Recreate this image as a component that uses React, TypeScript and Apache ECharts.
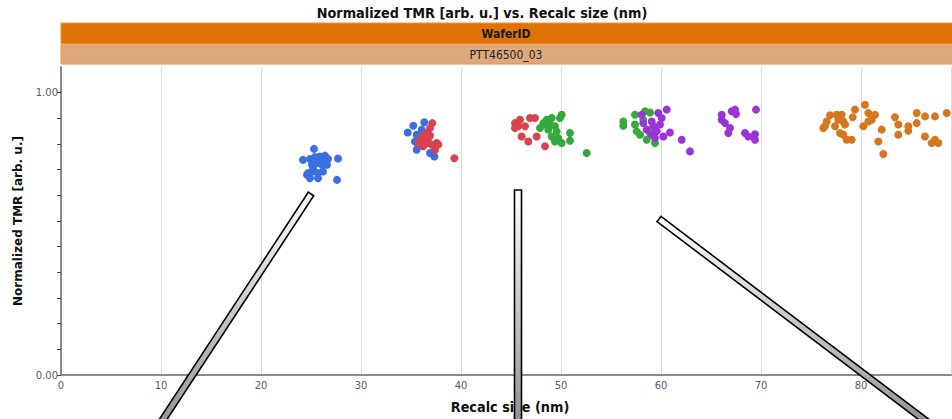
import React, { useEffect, useRef } from "react";
import * as echarts from "echarts";

// ---- data ----
const blueX = [25.3, 24.2, 24.9, 25.4, 25.9, 26.4, 26.7, 27.7, 26.2, 25.1, 25.6, 26.1, 26.6, 24.7, 25.2, 25.7, 26.2, 24.9, 25.7, 27.6, 25.2, 24.6,
  34.67, 35.23, 36.33, 35.57, 35.4, 35.73, 35.57, 36.9, 37.33, 35.9, 36.07];
const blueY = [0.801, 0.762, 0.765, 0.772, 0.774, 0.777, 0.765, 0.767, 0.762, 0.745, 0.75, 0.745, 0.745, 0.715, 0.721, 0.715, 0.721, 0.697, 0.697, 0.691, 0.733, 0.709,
  0.859, 0.883, 0.895, 0.851, 0.827, 0.81, 0.798, 0.786, 0.774, 0.839, 0.869];

const redX = [37.13, 36.9, 36.57, 36.07, 36.73, 37.57, 37.73, 37.07, 36.57, 35.73, 36.23, 37.4, 36.9, 39.33, 36.23,
  45.9, 45.4, 45.4, 46.4, 46.9, 47.4, 46.07, 46.73, 47.57, 48.4, 45.73];
const redY = [0.892, 0.875, 0.857, 0.845, 0.839, 0.822, 0.816, 0.816, 0.822, 0.822, 0.81, 0.798, 0.848, 0.768, 0.827,
  0.904, 0.892, 0.875, 0.881, 0.91, 0.91, 0.845, 0.827, 0.845, 0.81, 0.881];

const greenX = [47.9, 48.23, 48.57, 49.07, 50.07, 49.9, 48.73, 49.4, 49.57, 49.07, 49.73, 49.4, 50.07, 50.9, 50.9, 52.57, 48.4, 48.9,
  56.23, 56.23, 57.4, 58.4, 58.9, 57.4, 57.57, 57.9, 58.57, 59.4, 58.9, 58.23];
const greenY = [0.875, 0.892, 0.904, 0.91, 0.922, 0.91, 0.869, 0.881, 0.863, 0.845, 0.839, 0.827, 0.822, 0.857, 0.83, 0.786, 0.887, 0.887,
  0.898, 0.883, 0.922, 0.934, 0.93, 0.887, 0.863, 0.851, 0.833, 0.822, 0.857, 0.904];

const purpleX = [58.07, 59.73, 60.57, 60.07, 58.23, 59.07, 59.23, 59.9, 58.57, 59.57, 59.07, 59.4, 60.23, 60.9, 62.07, 62.9,
  66.07, 66.07, 66.4, 66.9, 66.73, 67.07, 67.4, 67.5, 69.5, 68.4, 68.73, 69.4, 69.4];
const purpleY = [0.922, 0.928, 0.94, 0.91, 0.892, 0.898, 0.881, 0.887, 0.869, 0.863, 0.851, 0.839, 0.845, 0.859, 0.833, 0.792,
  0.922, 0.904, 0.892, 0.875, 0.857, 0.934, 0.94, 0.924, 0.94, 0.857, 0.845, 0.853, 0.833];

const orangeX = [76.9, 76.57, 76.4, 76.23, 77.4, 77.57, 78.07, 77.73, 78.23, 78.4, 77.9, 78.23, 78.57, 79.07, 79.17, 79.4, 80.4, 80.73, 80.23, 80.73,
  81.07, 81.4, 82.07, 81.73, 82.23, 83.4, 83.73, 83.73, 84.73, 84.73, 85.57, 85.57, 86.4, 86.4, 87.07, 87.4, 87.73, 87.4, 88.57];
const orangeY = [0.92, 0.898, 0.881, 0.875, 0.881, 0.922, 0.922, 0.904, 0.898, 0.887, 0.857, 0.851, 0.833, 0.833, 0.913, 0.94, 0.957, 0.928, 0.881, 0.898,
  0.904, 0.922, 0.869, 0.827, 0.783, 0.913, 0.887, 0.851, 0.881, 0.865, 0.928, 0.892, 0.916, 0.845, 0.822, 0.833, 0.822, 0.916, 0.928];

const xTicks = [0, 10, 20, 30, 40, 50, 60, 70, 80];
const yTickLabels = ["0.00", "1.00"];

const titleText = "Normalized TMR [arb. u.] vs. Recalc size (nm)";
const panelHeader = "WaferID";
const panelValue = "PTT46500_03";
const xName = "Recalc size (nm)";
const yName = "Normalized TMR [arb. u.]";

const seriesDefs = [
  { name: "blue", color: "#3B6FE1", xs: blueX, ys: blueY },
  { name: "red", color: "#D8434F", xs: redX, ys: redY },
  { name: "green", color: "#36A93C", xs: greenX, ys: greenY },
  { name: "purple", color: "#9B33DA", xs: purpleX, ys: purpleY },
  { name: "orange", color: "#D6771F", xs: orangeX, ys: orangeY },
];

const FONT = "'DejaVu Sans', sans-serif";

function bar(x1: number, y1: number, x2: number, y2: number, w: number, grad: number[]) {
  const dx = x2 - x1, dy = y2 - y1;
  const len = Math.sqrt(dx * dx + dy * dy);
  const nx = (-dy / len) * (w / 2), ny = (dx / len) * (w / 2);
  return {
    type: "polygon",
    z: 100,
    silent: true,
    shape: {
      points: [
        [x1 + nx, y1 + ny],
        [x2 + nx, y2 + ny],
        [x2 - nx, y2 - ny],
        [x1 - nx, y1 - ny],
      ],
    },
    style: {
      fill: {
        type: "linear",
        x: grad[0], y: grad[1], x2: grad[2], y2: grad[3],
        colorStops: [
          { offset: 0, color: "#ffffff" },
          { offset: 1, color: "#8a8a8a" },
        ],
      },
      stroke: "#000",
      lineWidth: 1.6,
    },
  };
}

export default function App() {
  const ref = useRef<HTMLDivElement>(null);
  useEffect(() => {
    if (!ref.current) return;
    const chart = echarts.init(ref.current, undefined, { renderer: "svg" });
    const step = 1 / 11;
    chart.setOption({
      animation: false,
      backgroundColor: "#fff",
      grid: { left: 61, right: 1, top: 67, bottom: 44, containLabel: false },
      xAxis: {
        type: "value",
        min: 0,
        max: 89,
        interval: 10,
        axisLine: { lineStyle: { color: "#8a8a8a", width: 2 } },
        axisTick: { show: false },
        axisLabel: {
          margin: 5,
          fontFamily: FONT,
          fontSize: 10,
          color: "#5a5a6e",
          showMaxLabel: false,
          formatter: (v: number) => (xTicks.indexOf(Math.round(v)) >= 0 && Math.abs(v - Math.round(v)) < 1e-6 ? String(Math.round(v)) : ""),
        },
        splitLine: { show: true, lineStyle: { color: "#dcdcdc", width: 1 } },
      },
      yAxis: {
        type: "value",
        min: 0,
        max: 12 / 11,
        interval: step,
        name: yName,
        nameLocation: "middle",
        nameGap: 37,
        nameTextStyle: { fontFamily: FONT, fontWeight: "bold", fontSize: 12, color: "#111" },
        axisLine: { show: true, lineStyle: { color: "#8a8a8a", width: 2 } },
        axisTick: { show: true, length: 4, lineStyle: { color: "#444" } },
        axisLabel: {
          margin: 3,
          fontFamily: FONT,
          fontSize: 10,
          color: "#5a5a6e",
          showMaxLabel: false,
          formatter: (v: number) => {
            if (Math.abs(v) < 1e-6) return yTickLabels[0];
            if (Math.abs(v - 1) < 1e-6) return yTickLabels[1];
            return "";
          },
        },
        splitLine: { show: false },
      },
      series: seriesDefs.map((s) => ({
        name: s.name,
        type: "scatter",
        symbol: "circle",
        symbolSize: 8,
        itemStyle: { color: s.color, opacity: 1 },
        data: s.xs.map((x, i) => [x, s.ys[i]]),
      })),
      graphic: [
        {
          type: "text",
          x: 482,
          y: 13,
          scaleX: 0.92,
          style: {
            text: titleText,
            fontFamily: FONT,
            fontWeight: "bold",
            fontSize: 14,
            fill: "#111",
            textAlign: "center",
            textVerticalAlign: "middle",
          },
        },
        {
          type: "text",
          x: 510,
          y: 407,
          scaleX: 0.92,
          style: {
            text: xName,
            fontFamily: FONT,
            fontWeight: "bold",
            fontSize: 14,
            fill: "#111",
            textAlign: "center",
            textVerticalAlign: "middle",
          },
        },
        {
          type: "rect",
          shape: { x: 61, y: 23, width: 892, height: 21 },
          style: { fill: "#E07306", stroke: "#E8954A", lineWidth: 1 },
        },
        {
          type: "text",
          x: 506,
          y: 34,
          scaleX: 0.9,
          style: {
            text: panelHeader,
            fontFamily: FONT,
            fontWeight: "bold",
            fontSize: 12,
            fill: "#1a1a1a",
            textAlign: "center",
            textVerticalAlign: "middle",
          },
        },
        {
          type: "rect",
          shape: { x: 61, y: 45, width: 892, height: 19 },
          style: { fill: "#DDA97C", stroke: "#E8954A", lineWidth: 1 },
        },
        {
          type: "text",
          x: 506,
          y: 55,
          scaleX: 0.9,
          style: {
            text: panelValue,
            fontFamily: FONT,
            fontSize: 12,
            fill: "#222",
            textAlign: "center",
            textVerticalAlign: "middle",
          },
        },
        bar(311, 194, 147, 444, 6.5, [1, 0, 0, 1]),
        bar(518, 190, 518, 440, 7, [0, 0, 0, 1]),
        bar(659, 219, 951, 440, 6.5, [0, 0, 1, 1]),
      ],
    });
    return () => chart.dispose();
  }, []);
  return (
    <div
      ref={ref}
      style={{ position: "absolute", left: 0, top: 0, width: 952, height: 419, overflow: "hidden" }}
    />
  );
}
